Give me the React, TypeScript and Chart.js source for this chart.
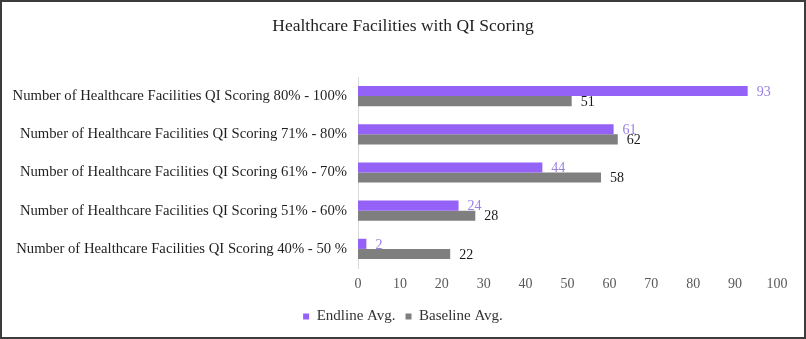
import React, { useEffect, useRef } from "react";
import { Chart, registerables } from "chart.js";

Chart.register(...registerables);

const categories = [
  "Number of Healthcare Facilities QI Scoring 80% - 100%",
  "Number of Healthcare Facilities QI Scoring 71% - 80%",
  "Number of Healthcare Facilities QI Scoring 61% - 70%",
  "Number of Healthcare Facilities QI Scoring 51% - 60%",
  "Number of Healthcare Facilities QI Scoring 40% - 50 %",
];
const endlineAvg = [93, 61, 44, 24, 2];
const baselineAvg = [51, 62, 58, 28, 22];
const xTicks = [0, 10, 20, 30, 40, 50, 60, 70, 80, 90, 100];

const FONT = "'Liberation Serif', 'DejaVu Serif', serif";
const PURPLE = "#9462F6";
const PURPLE_LABEL = "#9A7EE3";
const GRAY = "#7F7F7F";

const labelPlugin = {
  id: "valueLabels",
  afterDatasetsDraw(chart: any) {
    const ctx = chart.ctx;
    ctx.save();
    ctx.font = `14px ${FONT}`;
    ctx.textAlign = "left";
    ctx.textBaseline = "middle";
    chart.data.datasets.forEach((ds: any, di: number) => {
      const meta = chart.getDatasetMeta(di);
      ctx.fillStyle = di === 0 ? PURPLE_LABEL : "#1a1a1a";
      meta.data.forEach((bar: any, i: number) => {
        ctx.fillText(String(ds.data[i]), bar.x + 9, bar.y + 1);
      });
    });
    ctx.restore();
  },
};

export default function App() {
  const ref = useRef<HTMLCanvasElement | null>(null);
  useEffect(() => {
    if (!ref.current) return;
    const chart = new Chart(ref.current, {
      type: "bar",
      data: {
        labels: categories,
        datasets: [
          { label: "Endline Avg.", data: endlineAvg, backgroundColor: PURPLE },
          { label: "Baseline Avg.", data: baselineAvg, backgroundColor: GRAY },
        ],
      },
      options: {
        indexAxis: "y",
        animation: false,
        responsive: false,
        maintainAspectRatio: false,
        datasets: { bar: { barPercentage: 1, categoryPercentage: 0.53 } },
        layout: { padding: { left: 0, right: 0, top: 0, bottom: 3 } },
        scales: {
          x: {
            min: 0,
            max: 100,
            afterBuildTicks: (s: any) => {
              s.ticks = xTicks.map((v) => ({ value: v }));
            },
            afterFit: (s: any) => {
              s.height = 31;
            },
            grid: { display: false, drawTicks: false },
            border: { display: false },
            ticks: { color: "#595959", font: { family: FONT, size: 14 }, padding: 8 },
          },
          y: {
            afterFit: (s: any) => {
              s.width = 356;
            },
            grid: { display: false, drawTicks: false },
            border: { display: true, color: "#D9D9D9", width: 1 },
            ticks: { color: "#1f1f1f", font: { family: FONT, size: 14.7 }, padding: 11 },
          },
          spacer: {
            type: "linear",
            position: "right",
            axis: "y",
            display: true,
            afterFit: (s: any) => {
              s.width = 27;
            },
            grid: { display: false, drawTicks: false },
            border: { display: false },
            ticks: { display: false },
          },
        },
        plugins: {
          title: {
            display: true,
            text: "Healthcare Facilities with QI Scoring",
            color: "#1f1f1f",
            font: { family: FONT, size: 17.5, weight: "normal" },
            padding: { top: 14, bottom: 40 },
          },
          legend: {
            position: "bottom",
            labels: {
              boxWidth: 6,
              boxHeight: 6,
              color: "#333",
              font: { family: FONT, size: 15 },
              padding: 10,
            },
          },
          tooltip: { enabled: false },
        },
      },
      plugins: [labelPlugin],
    });
    return () => chart.destroy();
  }, []);
  return (
    <div
      style={{
        position: "absolute",
        left: 0,
        top: 0,
        width: 806,
        height: 339,
        boxSizing: "border-box",
        border: "2px solid #3c3c3c",
        background: "#fff",
      }}
    >
      <canvas ref={ref} width={802} height={335} style={{ display: "block" }} />
    </div>
  );
}
